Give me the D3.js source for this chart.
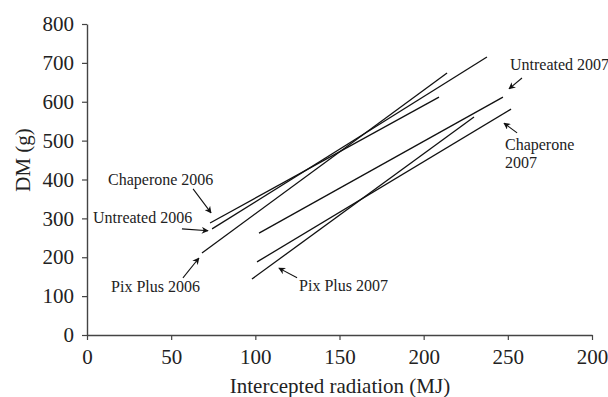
<!DOCTYPE html>
<html>
<head>
<meta charset="utf-8">
<script src="https://cdn.jsdelivr.net/npm/d3@7"></script>
<style>
  body { margin: 0; background: #fff; }
  svg text { font-family: "Liberation Serif", "Times New Roman", serif; fill: #222; }
</style>
</head>
<body>
<svg id="chart" width="608" height="397"></svg>
<script>
// regression lines: [x start, x end] and [y start, y end]
const series = ['Chaperone 2006', 'Untreated 2006', 'Pix Plus 2006', 'Untreated 2007', 'Chaperone 2007', 'Pix Plus 2007'];
const xStart = [73.1, 74.3, 68.3, 102.2, 101, 98];
const xEnd   = [209.1, 237.6, 213.9, 247.1, 251.9, 229.9];
const yStart = [288, 273, 211, 262, 188, 144];
const yEnd   = [612, 715, 674, 612, 581, 561];

const xTicks = [0, 50, 100, 150, 200, 250, 300];
const xTickLabels = ['0', '50', '100', '150', '200', '250', '200']; // as printed
const yTicks = [0, 100, 200, 300, 400, 500, 600, 700, 800];

// label text lines, text anchor (data units) and arrow from -> to (data units)
const labelText = [['Chaperone 2006'], ['Untreated 2006'], ['Pix Plus 2006'], ['Untreated 2007'], ['Chaperone', '2007'], ['Pix Plus 2007']];
const labelX = [12.5, 3.6, 14.3, 251.3, 248.3, 126];
const labelY = [386, 288, 111, 682, 476, 113];
const arrowFrom = [[63, 376], [56.4, 273], [57, 147], [258.4, 661], [255.5, 520], [124.8, 147]];
const arrowTo   = [[73.7, 314], [71.9, 268], [66.5, 198], [250.7, 633], [247.7, 545], [114, 172]];

const svg = d3.select('#chart');

const x = d3.scaleLinear().domain([0, 300]).range([87, 592]);
const y = d3.scaleLinear().domain([0, 800]).range([335, 24]);

svg.append('defs').append('marker')
    .attr('id', 'head')
    .attr('viewBox', '0 0 10 10')
    .attr('refX', 9).attr('refY', 5)
    .attr('markerWidth', 7).attr('markerHeight', 7)
    .attr('markerUnits', 'userSpaceOnUse')
    .attr('orient', 'auto')
    .append('path')
    .attr('d', 'M0,0 L10,5 L0,10 L3,5 Z')
    .attr('fill', '#111');

const xAxis = svg.append('g')
    .attr('transform', 'translate(0,' + y(0) + ')')
    .call(d3.axisBottom(x)
        .tickValues(xTicks)
        .tickFormat((d, i) => xTickLabels[i])
        .tickSize(5)
        .tickSizeOuter(0)
        .tickPadding(9));

const yAxis = svg.append('g')
    .attr('transform', 'translate(' + x(0) + ',0)')
    .call(d3.axisLeft(y)
        .tickValues(yTicks)
        .tickSize(5)
        .tickSizeOuter(0)
        .tickPadding(8));

[xAxis, yAxis].forEach(g => {
    g.select('.domain').attr('stroke', '#444').attr('stroke-width', 1.4);
    g.selectAll('.tick line').attr('stroke', '#444').attr('stroke-width', 1.2);
    g.selectAll('.tick text')
        .style('font-family', '"Liberation Serif", serif')
        .style('font-size', '21px')
        .attr('fill', '#222');
});

svg.append('text')
    .attr('x', 340).attr('y', 393)
    .attr('text-anchor', 'middle')
    .style('font-size', '21px')
    .text('Intercepted radiation (MJ)');

svg.append('text')
    .attr('transform', 'translate(30,' + 160 + ') rotate(-90)')
    .attr('text-anchor', 'middle')
    .style('font-size', '21px')
    .text('DM (g)');

svg.append('g').selectAll('line')
    .data(series)
    .enter().append('line')
    .attr('x1', (d, i) => x(xStart[i]))
    .attr('y1', (d, i) => y(yStart[i]))
    .attr('x2', (d, i) => x(xEnd[i]))
    .attr('y2', (d, i) => y(yEnd[i]))
    .attr('stroke', '#111')
    .attr('stroke-width', 1.3);

const labels = svg.append('g').selectAll('g')
    .data(series)
    .enter().append('g');

labels.append('text')
    .attr('x', (d, i) => x(labelX[i]))
    .attr('y', (d, i) => y(labelY[i]))
    .style('font-size', '16px')
    .each(function (d, i) {
        const t = d3.select(this);
        labelText[i].forEach((s, k) => {
            t.append('tspan')
                .attr('x', x(labelX[i]))
                .attr('dy', k === 0 ? 0 : 18)
                .text(s);
        });
    });

labels.append('line')
    .attr('x1', (d, i) => x(arrowFrom[i][0]))
    .attr('y1', (d, i) => y(arrowFrom[i][1]))
    .attr('x2', (d, i) => x(arrowTo[i][0]))
    .attr('y2', (d, i) => y(arrowTo[i][1]))
    .attr('stroke', '#111')
    .attr('stroke-width', 1.1)
    .attr('marker-end', 'url(#head)');
</script>
</body>
</html>
